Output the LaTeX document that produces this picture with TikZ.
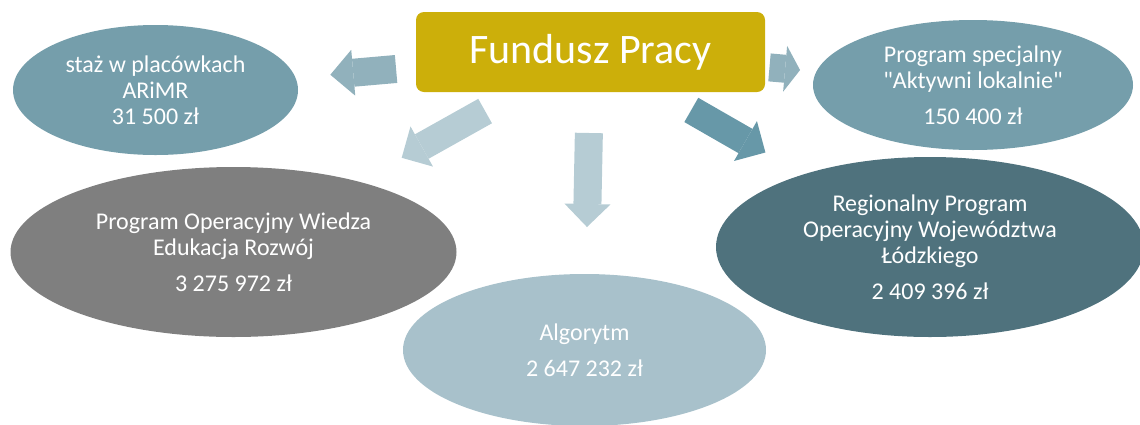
\documentclass[tikz,border=0pt]{standalone}
\usepackage{fontspec}
\setmainfont{Carlito}[Ligatures=TeXOff]
\usetikzlibrary{shapes.geometric,arrows.meta}
\definecolor{zloty}{HTML}{CCAF0A}
\definecolor{morski}{HTML}{759EAB}
\definecolor{szary}{HTML}{7F7F7F}
\definecolor{ciemny}{HTML}{4F727D}
\definecolor{jasny}{HTML}{A8C1CB}
\definecolor{strzA}{HTML}{91B1BC}
\definecolor{strzB}{HTML}{B6CCD4}
\definecolor{strzC}{HTML}{6798A8}
\tikzset{
	elipsa/.style={ellipse, inner sep=0pt, outer sep=0pt, text=white, align=center,
		font=\fontsize{24}{26}\selectfont},
	strzalka/.style={line width=28pt, -{Triangle[length=23pt, width=46pt, line width=0pt]}},
}

\begin{document}
\begin{tikzpicture}[x=1pt, y=-1pt]
			\useasboundingbox (0,0) rectangle (1140,424);
			\node (fp) [fill=zloty, rounded corners=8pt, outer sep=0pt, minimum width=349pt, minimum height=80pt,
				text=white, font=\fontsize{42}{50}\selectfont] at (590.5,52) {Fundusz Pracy};
			\node (staz) [elipsa, fill=morski, minimum width=285pt, minimum height=130pt] at (155.5,90)
				{staż w placówkach\\ARiMR\\31 500 zł};
			\node (spec) [elipsa, fill=morski, minimum width=320pt, minimum height=130pt] at (973,85)
				{Program specjalny\\"Aktywni lokalnie"\\[10pt]150 400 zł};
			\node (pow) [elipsa, fill=szary, minimum width=446pt, minimum height=170pt] at (233.5,252)
				{Program Operacyjny Wiedza\\Edukacja Rozwój\\[10pt]3 275 972 zł};
			\node (rpo) [elipsa, fill=ciemny, minimum width=428pt, minimum height=180pt] at (930,247)
				{Regionalny Program\\Operacyjny Województwa\\Łódzkiego\\[10pt]2 409 396 zł};
			\node (alg) [elipsa, fill=jasny, minimum width=363pt, minimum height=152pt] at (584.5,350)
				{Algorytm\\[10pt]2 647 232 zł};
			%
			\draw[strzalka, strzA, shorten <=20pt, shorten >=35pt]		(fp) -- (staz);
			\draw[strzalka, strzB, shorten <=39pt, shorten >=49pt]		(fp) -- (pow);
			\draw[strzalka, strzB, shorten <=41pt, shorten >=47pt]		(fp) -- (alg);
			\draw[strzalka, strzA, shorten <=4.5pt, shorten >=16.5pt,
				-{Triangle[length=15pt, width=46pt, line width=0pt]}]	(fp) -- (spec);
			\draw[strzalka, strzC, shorten <=36pt, shorten >=44pt]		(fp) -- (rpo);
\end{tikzpicture}
\end{document}
